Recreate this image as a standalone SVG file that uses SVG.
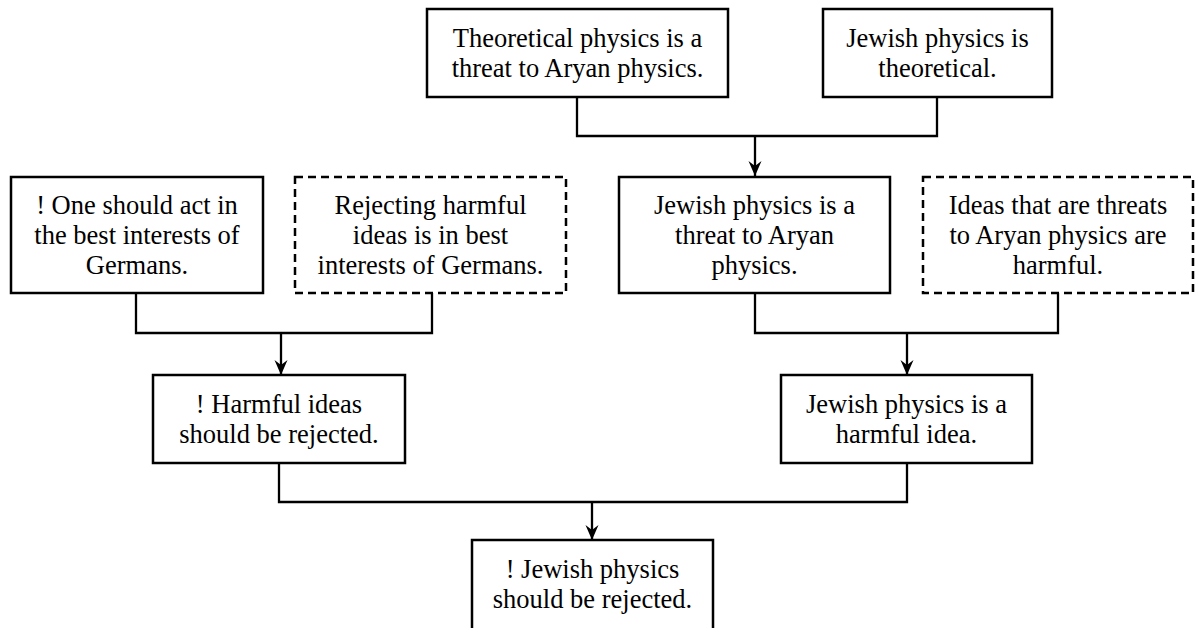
<svg xmlns="http://www.w3.org/2000/svg" width="1195" height="628" viewBox="0 0 1195 628">
  <style>
    .box { fill: #ffffff; stroke: #000000; stroke-width: 2.5; }
    .dashed { stroke-dasharray: 8 5; }
    .label { font-size: 26.5px; fill: #000000; text-anchor: middle; }
    .wire { fill: none; stroke: #000000; stroke-width: 2.3; }
  </style>
  <defs>
    <marker id="arrow" markerUnits="userSpaceOnUse" markerWidth="16" markerHeight="16" viewBox="0 0 16 16" refX="15" refY="8" orient="auto">
      <path d="M0,1.5 L15,8 L0,14.5 L5,8 Z" fill="#000000"/>
    </marker>
  </defs>
  <rect width="1195" height="628" fill="#ffffff"/>

  <!-- connectors -->
  <g id="connectors">
    <path class="wire" d="M577,97 V136 H937 V97"/>
    <path class="wire" d="M755,136 V176" marker-end="url(#arrow)"/>
    <path class="wire" d="M136,293 V333 H432 V293"/>
    <path class="wire" d="M281,333 V375" marker-end="url(#arrow)"/>
    <path class="wire" d="M755,293 V333 H1058 V293"/>
    <path class="wire" d="M907,333 V375" marker-end="url(#arrow)"/>
    <path class="wire" d="M279,463 V502 H907 V463"/>
    <path class="wire" d="M592,502 V540" marker-end="url(#arrow)"/>
  </g>

  <g font-family="Liberation Serif, Tinos, Times New Roman, DejaVu Serif, serif">
  <!-- top row -->
  <g id="theoretical-threat">
    <rect class="box" x="427" y="9" width="301" height="88"/>
    <text class="label" x="577.5" y="47">Theoretical physics is a</text>
    <text class="label" x="577.5" y="77">threat to Aryan physics.</text>
  </g>
  <g id="jewish-theoretical">
    <rect class="box" x="823" y="9" width="229" height="88"/>
    <text class="label" x="937.5" y="47">Jewish physics is</text>
    <text class="label" x="937.5" y="77">theoretical.</text>
  </g>

  <!-- second row -->
  <g id="act-in-interests">
    <rect class="box" x="11" y="177" width="252" height="116"/>
    <text class="label" x="137" y="214">! One should act in</text>
    <text class="label" x="137" y="244">the best interests of</text>
    <text class="label" x="137" y="274">Germans.</text>
  </g>
  <g id="rejecting-harmful">
    <rect class="box dashed" x="295" y="177" width="271" height="116"/>
    <text class="label" x="430.5" y="214">Rejecting harmful</text>
    <text class="label" x="430.5" y="244">ideas is in best</text>
    <text class="label" x="430.5" y="274">interests of Germans.</text>
  </g>
  <g id="jewish-threat">
    <rect class="box" x="619" y="177" width="271" height="116"/>
    <text class="label" x="754.5" y="214">Jewish physics is a</text>
    <text class="label" x="754.5" y="244">threat to Aryan</text>
    <text class="label" x="754.5" y="274">physics.</text>
  </g>
  <g id="threats-harmful">
    <rect class="box dashed" x="923" y="177" width="270" height="116"/>
    <text class="label" x="1058" y="214">Ideas that are threats</text>
    <text class="label" x="1058" y="244">to Aryan physics are</text>
    <text class="label" x="1058" y="274">harmful.</text>
  </g>

  <!-- third row -->
  <g id="harmful-rejected">
    <rect class="box" x="153" y="375" width="252" height="88"/>
    <text class="label" x="279" y="413">! Harmful ideas</text>
    <text class="label" x="279" y="443">should be rejected.</text>
  </g>
  <g id="jewish-harmful">
    <rect class="box" x="781" y="375" width="251" height="88"/>
    <text class="label" x="906.5" y="413">Jewish physics is a</text>
    <text class="label" x="906.5" y="443">harmful idea.</text>
  </g>

  <!-- conclusion -->
  <g id="jewish-rejected">
    <rect class="box" x="472" y="540" width="241" height="110"/>
    <text class="label" x="592.5" y="578">! Jewish physics</text>
    <text class="label" x="592.5" y="608">should be rejected.</text>
  </g>
  </g>
</svg>
